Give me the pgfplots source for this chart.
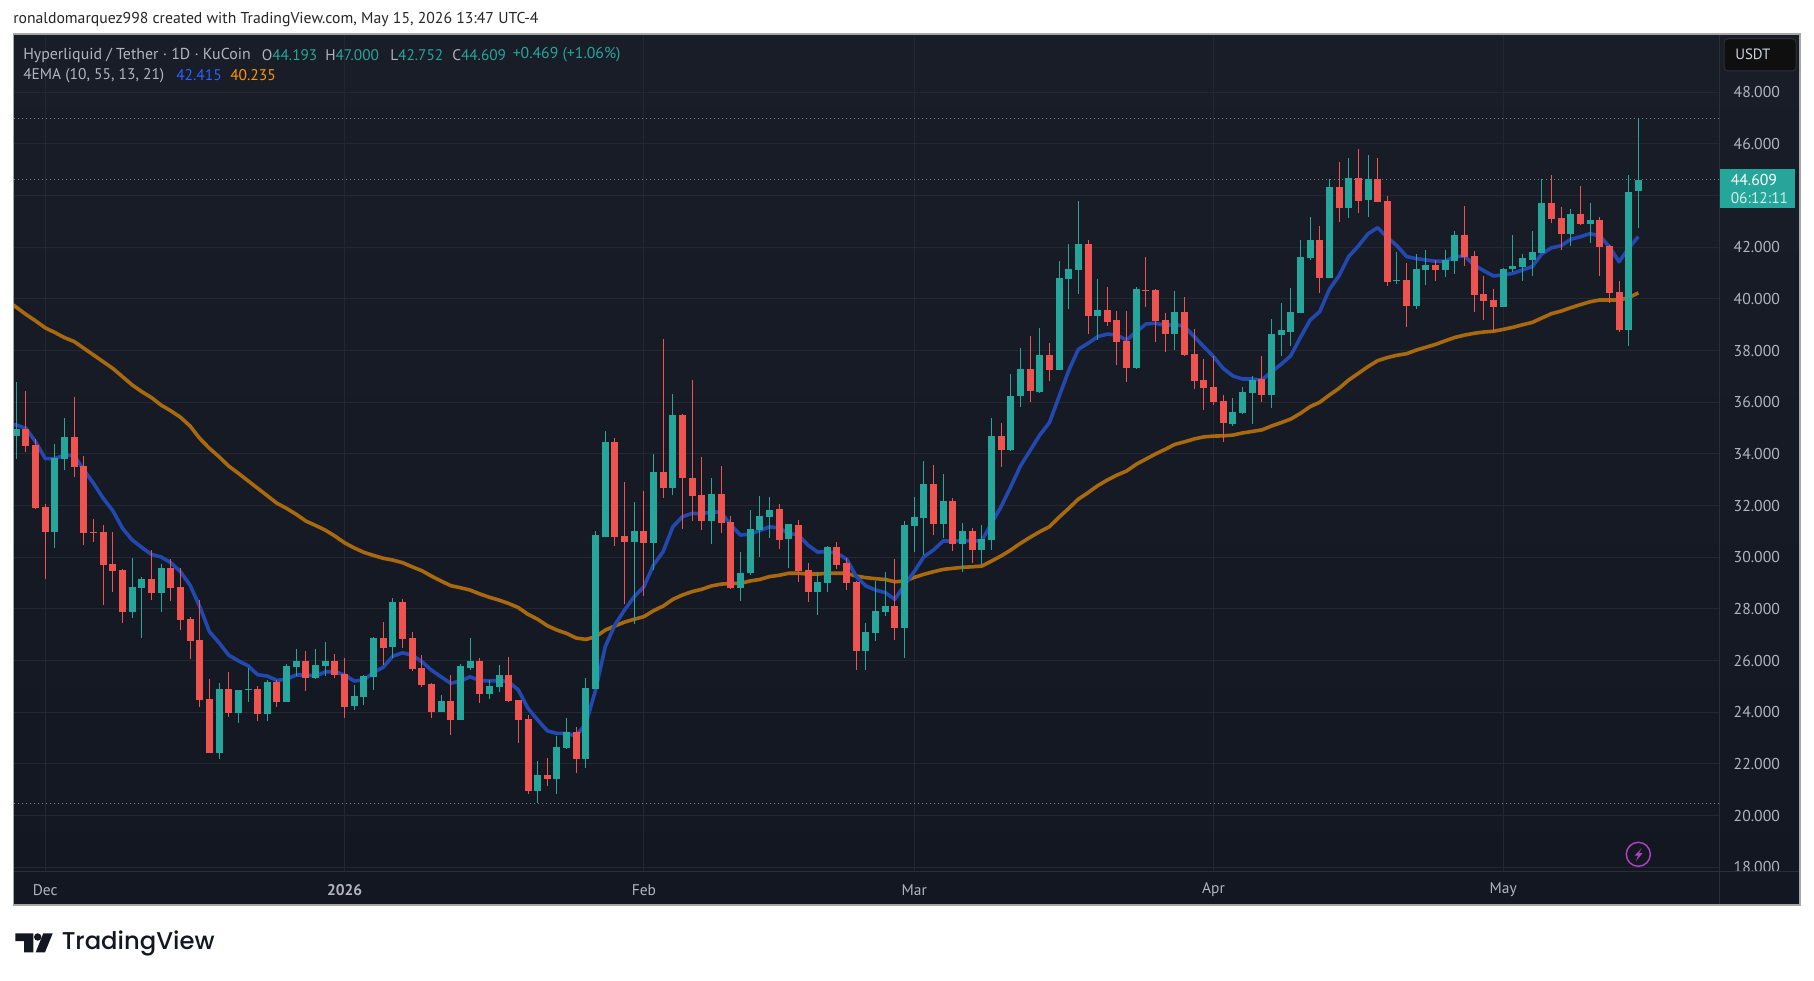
\documentclass[border=0pt]{standalone}
\usepackage{fontspec}
\setmainfont{PT Sans}
\newfontfamily\tvfont{Poppins Medium}
\usepackage{pgfplots}
\usepackage{pgfplotstable}
\pgfplotsset{compat=1.18}
\definecolor{upc}{HTML}{26A69A}
\definecolor{downc}{HTML}{EF5350}
\definecolor{blueema}{HTML}{2349B0}
\definecolor{orema}{HTML}{A9690F}
\definecolor{gridc}{HTML}{232732}
\definecolor{txt}{HTML}{B2B5BE}
\definecolor{divc}{HTML}{2A2E39}
\definecolor{dotg}{HTML}{7D808A}
\definecolor{dott}{HTML}{4E8F8C}
\pgfplotstableread{
i o h l c
0 34.71 36.77 33.82 34.96
4 30.99 34.38 30.37 33.84
5 33.82 35.39 33.39 34.65
12 27.89 29.97 27.66 28.85
13 28.82 29.23 26.89 29.16
15 28.63 29.74 27.89 29.58
21 22.43 25.13 22.20 24.90
23 23.98 24.86 23.60 24.86
24 24.87 25.71 24.41 24.90
26 23.94 25.25 23.67 25.17
28 24.41 25.87 24.41 25.79
29 25.75 26.45 25.40 25.98
31 25.34 26.45 25.28 25.83
32 25.79 26.72 25.40 25.98
35 24.24 25.05 24.08 24.63
36 24.59 25.44 24.28 25.40
37 25.36 26.91 24.86 26.87
39 26.52 28.42 26.10 28.27
44 24.01 24.66 24.01 24.43
46 23.70 25.87 23.70 25.79
47 25.71 26.87 25.63 25.98
49 24.70 25.25 24.51 25.01
50 24.97 25.83 24.78 25.44
54 20.95 22.11 20.47 21.57
56 21.41 23.08 20.83 22.65
57 22.61 23.77 22.58 23.23
59 22.19 25.32 21.84 24.94
60 24.90 31.01 24.90 30.86
61 30.78 34.89 30.78 34.46
64 30.59 32.14 27.42 31.02
66 30.55 34.00 29.51 33.30
68 32.68 36.32 32.41 35.51
72 31.40 33.07 30.51 32.45
75 28.81 30.20 28.30 29.39
76 29.39 31.83 29.31 31.09
77 31.05 32.37 30.01 31.60
78 31.56 32.33 30.74 31.83
80 30.71 31.29 29.58 31.29
83 28.66 29.43 27.76 29.04
84 29.00 30.43 28.66 30.40
88 26.37 27.45 25.64 27.11
89 27.07 29.08 26.76 27.92
90 27.88 29.43 27.73 28.11
92 27.26 31.40 26.10 31.25
93 31.21 32.33 30.20 31.56
94 31.52 33.73 30.09 32.84
96 31.29 33.22 30.74 32.18
98 30.51 31.33 29.43 31.02
100 30.28 31.25 29.70 30.71
101 30.67 35.39 30.28 34.70
103 34.15 37.10 34.11 36.24
104 36.24 38.10 35.82 37.29
106 36.40 38.87 36.36 37.83
108 37.25 41.47 37.25 40.81
109 40.77 42.13 39.61 41.16
110 41.12 43.79 40.19 42.13
112 39.34 40.77 38.41 39.57
116 37.33 40.46 37.29 40.38
120 38.64 40.31 38.02 39.50
126 35.16 36.17 35.08 35.62
127 35.58 36.59 35.55 36.40
128 36.36 37.02 35.16 36.86
130 36.28 39.22 35.78 38.64
131 38.60 39.84 37.79 38.80
132 38.72 40.42 38.18 39.49
133 39.46 42.28 39.46 41.62
134 41.58 43.17 41.51 42.28
136 40.81 44.64 40.81 44.33
138 43.52 45.46 43.13 44.68
140 43.83 45.57 43.17 44.64
143 40.69 41.82 40.58 40.73
145 39.73 41.74 39.61 41.16
146 41.12 41.89 40.54 41.31
148 41.12 41.89 40.85 41.51
149 41.47 42.63 40.97 42.47
154 39.69 41.20 39.69 41.16
155 41.16 42.47 41.04 41.27
156 41.24 41.74 40.69 41.58
157 41.51 42.63 40.89 41.82
158 41.78 44.64 41.78 43.71
161 42.51 43.48 42.05 43.29
163 42.90 43.71 42.17 43.06
167 38.80 44.80 38.18 44.14
168 44.193 47.000 42.752 44.609
}\upcandles
\pgfplotstableread{
i o h l c
1 34.96 36.44 34.09 34.32
2 34.34 34.58 31.88 31.92
3 31.94 32.06 29.17 30.99
6 34.65 36.20 33.12 33.51
7 33.53 33.92 30.49 30.95
8 30.98 31.48 30.60 30.95
9 30.98 31.25 28.16 29.71
10 29.74 30.98 28.67 29.48
11 29.51 29.53 27.47 27.89
14 29.16 30.28 28.36 28.63
16 29.58 29.93 28.32 28.82
17 28.85 29.58 27.20 27.58
18 27.61 27.69 26.07 26.77
19 26.80 28.34 24.21 24.49
20 24.51 25.28 22.43 22.43
22 24.90 25.56 23.83 23.98
25 24.90 25.01 23.67 23.94
27 25.17 25.25 24.21 24.41
30 25.98 26.37 24.82 25.34
33 25.98 26.25 25.34 25.44
34 25.48 26.10 23.77 24.20
38 26.87 27.49 25.83 26.48
40 28.27 28.38 26.48 26.83
41 26.87 27.10 25.59 25.67
42 25.71 26.21 24.97 25.05
43 25.09 25.13 23.77 24.01
45 24.43 25.44 23.12 23.70
48 25.98 26.10 24.36 24.70
51 25.44 26.14 24.39 24.43
52 24.47 24.47 22.81 23.70
53 23.74 23.89 20.83 20.95
55 21.57 22.23 21.14 21.41
58 23.23 23.43 21.65 22.19
62 34.46 34.62 30.43 30.78
63 30.82 32.91 28.19 30.59
65 31.02 32.56 28.50 30.55
67 33.30 38.45 32.29 32.68
69 35.51 35.55 31.09 33.07
70 33.07 36.86 31.40 32.37
71 32.41 33.88 31.05 31.40
73 32.45 33.53 30.94 31.33
74 31.36 31.60 28.77 28.81
79 31.87 32.06 30.32 30.67
81 31.25 31.44 29.04 29.47
82 29.51 29.78 28.27 28.66
85 30.40 30.59 29.55 29.70
86 29.78 29.97 28.73 29.00
87 29.04 29.08 25.64 26.37
91 28.11 29.93 26.80 27.26
95 32.84 33.57 30.86 31.29
97 32.18 32.29 30.24 30.51
99 31.02 31.13 29.78 30.28
102 34.70 35.20 33.50 34.15
105 37.29 38.57 36.01 36.44
107 37.83 38.29 36.82 37.25
111 42.13 42.28 38.64 39.34
113 39.57 40.46 38.95 39.11
114 39.19 39.53 37.44 38.33
115 38.37 39.53 36.78 37.33
117 40.35 41.62 39.69 40.32
118 40.35 40.38 38.33 39.15
119 39.19 39.46 37.95 38.64
121 39.50 40.08 37.79 37.83
122 37.87 38.84 36.51 36.82
123 36.86 37.67 35.70 36.55
124 36.59 37.79 35.89 36.01
125 36.05 36.28 34.46 35.20
129 36.90 37.79 36.01 36.28
135 42.28 42.82 40.23 40.81
137 44.33 45.30 42.98 43.52
139 44.68 45.80 43.33 43.79
141 44.64 45.46 43.75 43.75
142 43.79 43.98 40.50 40.66
144 40.73 41.39 38.91 39.73
147 41.31 41.51 40.69 41.12
150 42.47 43.60 41.27 41.62
151 41.66 41.86 39.49 40.15
152 40.19 40.89 39.18 39.92
153 39.96 40.38 38.72 39.69
159 43.71 44.80 42.94 43.09
160 43.13 43.56 41.89 42.51
162 43.29 44.37 42.86 42.90
164 43.06 43.17 40.89 42.01
165 42.05 42.09 39.84 40.23
166 40.27 40.69 38.72 38.80
}\downcandles
\pgfplotstableread{
i ema
-1 35.15
0 35.12
1 34.99
2 34.47
3 33.82
4 33.82
5 33.96
6 33.93
7 33.38
8 32.86
9 32.28
10 31.80
11 31.12
12 30.67
13 30.38
14 30.11
15 30.01
16 29.79
17 29.44
18 28.92
19 28.09
20 27.12
21 26.69
22 26.21
23 25.99
24 25.80
25 25.45
26 25.40
27 25.23
28 25.29
29 25.44
30 25.44
31 25.40
32 25.56
33 25.57
34 25.44
35 25.21
36 25.25
37 25.54
38 25.74
39 26.17
40 26.30
41 26.21
42 25.96
43 25.63
44 25.37
45 25.12
46 25.21
47 25.37
48 25.23
49 25.21
50 25.23
51 25.18
52 24.86
53 24.15
54 23.70
55 23.28
56 23.18
57 23.18
58 23.08
59 23.57
60 24.86
61 26.54
62 27.38
63 27.96
64 28.47
65 28.86
66 29.70
67 30.22
68 31.18
69 31.57
70 31.70
71 31.68
72 31.76
73 31.74
74 31.25
75 30.86
76 30.90
77 31.03
78 31.18
79 31.13
80 30.93
81 30.86
82 30.47
83 30.20
84 30.22
85 30.15
86 29.93
87 29.25
88 28.89
89 28.73
90 28.63
91 28.37
92 28.93
93 29.44
94 30.02
95 30.28
96 30.63
97 30.63
98 30.64
99 30.64
100 30.64
101 31.31
102 31.96
103 32.73
104 33.53
105 34.13
106 34.73
107 35.21
108 36.22
109 37.22
110 38.05
111 38.28
112 38.54
113 38.64
114 38.60
115 38.41
116 38.73
117 39.03
118 39.06
119 38.97
120 39.02
121 38.93
122 38.54
123 38.15
124 37.77
125 37.31
126 37.02
127 36.90
128 36.90
129 36.86
130 37.18
131 37.47
132 37.80
133 38.51
134 39.18
135 39.51
136 40.37
137 40.90
138 41.64
139 42.05
140 42.52
141 42.76
142 42.38
143 42.06
144 41.64
145 41.56
146 41.51
147 41.46
148 41.46
149 41.64
150 41.66
151 41.31
152 41.09
153 40.89
154 40.93
155 40.99
156 41.12
157 41.25
158 41.74
159 41.98
160 42.06
161 42.31
162 42.41
163 42.53
164 42.44
165 42.02
166 41.44
167 41.96
168 42.415
}\blueline
\pgfplotstableread{
i ema
-1 39.95
0 39.68
1 39.40
2 39.15
3 38.88
4 38.70
5 38.50
6 38.35
7 38.09
8 37.83
9 37.57
10 37.31
11 36.99
12 36.67
13 36.41
14 36.18
15 35.89
16 35.67
17 35.42
18 35.08
19 34.60
20 34.22
21 33.89
22 33.53
23 33.25
24 32.96
25 32.67
26 32.38
27 32.09
28 31.89
29 31.66
30 31.40
31 31.23
32 31.05
33 30.82
34 30.56
35 30.36
36 30.19
37 30.07
38 29.96
39 29.89
40 29.79
41 29.63
42 29.48
43 29.27
44 29.08
45 28.90
46 28.82
47 28.73
48 28.58
49 28.45
50 28.34
51 28.21
52 28.05
53 27.79
54 27.60
55 27.35
56 27.18
57 27.05
58 26.87
59 26.82
60 26.92
61 27.18
62 27.34
63 27.49
64 27.60
65 27.70
66 27.93
67 28.11
68 28.37
69 28.54
70 28.67
71 28.76
72 28.89
73 28.96
74 28.99
75 28.99
76 29.08
77 29.14
78 29.25
79 29.30
80 29.38
81 29.38
82 29.35
83 29.35
84 29.38
85 29.38
86 29.38
87 29.27
88 29.21
89 29.17
90 29.14
91 29.05
92 29.08
93 29.22
94 29.34
95 29.44
96 29.53
97 29.57
98 29.61
99 29.63
100 29.66
101 29.85
102 30.05
103 30.28
104 30.54
105 30.77
106 30.99
107 31.18
108 31.55
109 31.89
110 32.25
111 32.50
112 32.77
113 32.99
114 33.18
115 33.34
116 33.60
117 33.80
118 34.00
119 34.18
120 34.37
121 34.47
122 34.58
123 34.66
124 34.69
125 34.70
126 34.73
127 34.81
128 34.87
129 34.93
130 35.08
131 35.21
132 35.35
133 35.57
134 35.83
135 36.00
136 36.28
137 36.54
138 36.86
139 37.12
140 37.38
141 37.61
142 37.73
143 37.82
144 37.88
145 38.02
146 38.13
147 38.24
148 38.38
149 38.51
150 38.60
151 38.67
152 38.72
153 38.75
154 38.82
155 38.90
156 39.00
157 39.09
158 39.26
159 39.43
160 39.53
161 39.66
162 39.78
163 39.89
164 39.96
165 39.96
166 39.96
167 40.05
168 40.235
}\orangeline
\newcommand{\fsz}[1]{\fontsize{#1}{#1}\selectfont}
\begin{document}
\begin{tikzpicture}
\begin{scope}[x=0.75pt,y=-0.75pt]
\path[use as bounding box,fill=white] (0,0) rectangle (1814,981);
\node[anchor=west,inner sep=0,text=black!85] at (13,19.7) {\fsz{11.8}ronaldomarquez998 created with TradingView.com, May 15, 2026 13:47 UTC-4};
\shade[top color={rgb,255:red,25;green,29;blue,40},bottom color={rgb,255:red,19;green,23;blue,34}] (13.5,34) rectangle (1800,905);
\end{scope}
\begin{axis}[
  at={(10.125pt,-653.25pt)},anchor=south west,
  scale only axis,width=1279.1pt,height=627.75pt,
  xmin=-0.29,xmax=176.35,ymin=17.853,ymax=50.257,
  axis line style={draw=none},
  major tick length=0pt,
  xtick={3,34,65,93,124,154},xticklabels={},
  ytick={18,20,22,24,26,28,30,32,34,36,38,40,42,46,48},
  extra y ticks={44},extra y tick labels={},
  extra tick style={grid=major},
  ymajorgrids,xmajorgrids,
  grid style={color=gridc,line width=0.75pt},
  yticklabel pos=right,
  yticklabel style={anchor=west,xshift=7.5pt,text=txt,font=\fsz{11.8},
    /pgf/number format/.cd,fixed,fixed zerofill,precision=3,assume math mode=true},
  error bars/error mark=none,
]
\addplot[color=dotg,line width=0.75pt,dash pattern=on 0.75pt off 2.25pt,forget plot] coordinates {(-0.29,47.0)(176.35,47.0)};
\addplot[color=dott,line width=0.75pt,dash pattern=on 0.75pt off 2.25pt,forget plot] coordinates {(-0.29,44.609)(176.35,44.609)};
\addplot[color=dotg,line width=0.75pt,dash pattern=on 0.75pt off 2.25pt,forget plot] coordinates {(-0.29,20.47)(176.35,20.47)};
\addplot[color=orema,line width=2.7pt,line join=round] table[x=i,y=ema] {\orangeline};
\addplot[color=blueema,line width=2.7pt,line join=round] table[x=i,y=ema] {\blueline};
% wicks
\addplot[draw=none,no marks,error bars/.cd,y dir=both,y explicit,error bar style={color=upc,line width=0.75pt}]
  table[x=i,y=o,y error plus expr=\thisrow{h}-\thisrow{o},y error minus expr=\thisrow{o}-\thisrow{l}] {\upcandles};
\addplot[draw=none,no marks,error bars/.cd,y dir=both,y explicit,error bar style={color=downc,line width=0.75pt}]
  table[x=i,y=o,y error plus expr=\thisrow{h}-\thisrow{o},y error minus expr=\thisrow{o}-\thisrow{l}] {\downcandles};
% bodies
\addplot[draw=none,no marks,error bars/.cd,y dir=plus,y explicit,error bar style={color=upc,line width=5.25pt}]
  table[x=i,y=o,y error plus expr=\thisrow{c}-\thisrow{o}] {\upcandles};
\addplot[draw=none,no marks,error bars/.cd,y dir=minus,y explicit,error bar style={color=downc,line width=5.25pt}]
  table[x=i,y=o,y error minus expr=\thisrow{o}-\thisrow{c}] {\downcandles};
\end{axis}
\begin{scope}[x=0.75pt,y=-0.75pt]
\fill[color={rgb,255:red,19;green,23;blue,34}] (13.5,871) rectangle (1800,905);
\draw[divc,line width=0.75pt] (13.5,871) -- (1800,871);
\draw[divc,line width=0.75pt] (1719,34) -- (1719,905);
\end{scope}
\begin{axis}[
  at={(10.125pt,-653.25pt)},anchor=south west,
  scale only axis,width=1279.1pt,height=627.75pt,
  xmin=-0.29,xmax=176.35,ymin=17.853,ymax=50.257,
  axis line style={draw=none},
  major tick length=0pt,
  ytick=\empty,
  xtick={3,34,65,93,124,154},
  xticklabels={Dec,\textbf{2026},Feb,Mar,Apr,May},
  xticklabel style={anchor=center,yshift=-14.2pt,text=txt,font=\fsz{11.6}},
]
\addplot[draw=none,forget plot] coordinates {(3,30)};
\end{axis}
\begin{scope}[x=0.75pt,y=-0.75pt]
\draw[color=gray!70,line width=1.1pt] (13.5,34) rectangle (1800,905);
\node[anchor=west,inner sep=0,text=txt] at (23,55) {\fsz{11.9}Hyperliquid / Tether · 1D · KuCoin};
\node[anchor=west,inner sep=0] at (261.5,55) {\fsz{11.5}\textcolor{txt}{O}\textcolor{upc}{44.193}};
\node[anchor=west,inner sep=0] at (325,55) {\fsz{11.5}\textcolor{txt}{H}\textcolor{upc}{47.000}};
\node[anchor=west,inner sep=0] at (390,55) {\fsz{11.5}\textcolor{txt}{L}\textcolor{upc}{42.752}};
\node[anchor=west,inner sep=0] at (452,55) {\fsz{11.5}\textcolor{txt}{C}\textcolor{upc}{44.609}};
\node[anchor=west,inner sep=0,text=upc] at (512.5,55) {\fsz{11.8}+0.469 (+1.06\%)};
\node[anchor=west,inner sep=0,text=txt] at (23,75.5) {\fsz{11.6}4EMA (10, 55, 13, 21)};
\node[anchor=west,inner sep=0] at (176,75.5) {\fsz{11.6}\textcolor[HTML]{2962FF}{42.415}};
\node[anchor=west,inner sep=0] at (230,75.5) {\fsz{11.6}\textcolor[HTML]{FF9800}{40.235}};
\draw[fill={rgb,255:red,15;green,15;blue,15},draw=divc,line width=0.75pt,rounded corners=3pt] (1724,38.7) rectangle (1796,71);
\node[anchor=west,inner sep=0,text={rgb,255:red,209;green,212;blue,220}] at (1735,54.5) {\fsz{11.2}USDT};
\fill[upc] (1720,169) rectangle (1795,207.7);
\node[anchor=west,inner sep=0,text=white] at (1730.5,180) {\fsz{11.8}44.609};
\node[anchor=west,inner sep=0,text=white!80!upc] at (1730.5,198) {\fsz{11.6}06:12:11};
\draw[color={rgb,255:red,176;green,66;blue,190},line width=1.1pt] (1638.3,854.3) circle (12);
\fill[color={rgb,255:red,176;green,66;blue,190}] (1641.6,848.3) -- (1634.6,855.6) -- (1638,855.6) -- (1636,861) -- (1642.6,853) -- (1639,853) -- cycle;
\fill[color={rgb,255:red,19;green,23;blue,34}] (15.3,933.3) -- (33.3,933.3) -- (33.3,952.3) -- (24,952.3) -- (24,941) -- (15.3,941) -- cycle;
\fill[color={rgb,255:red,19;green,23;blue,34}] (37.7,937) circle (3.7);
\fill[color={rgb,255:red,19;green,23;blue,34}] (52.7,933.3) -- (45,952.3) -- (35.7,952.3) -- (43.3,933.3) -- cycle;
\node[anchor=west,inner sep=0,text={rgb,255:red,19;green,23;blue,34}] at (61.5,943) {\fsz{18.2}\tvfont TradingView};
\end{scope}
\end{tikzpicture}
\end{document}
